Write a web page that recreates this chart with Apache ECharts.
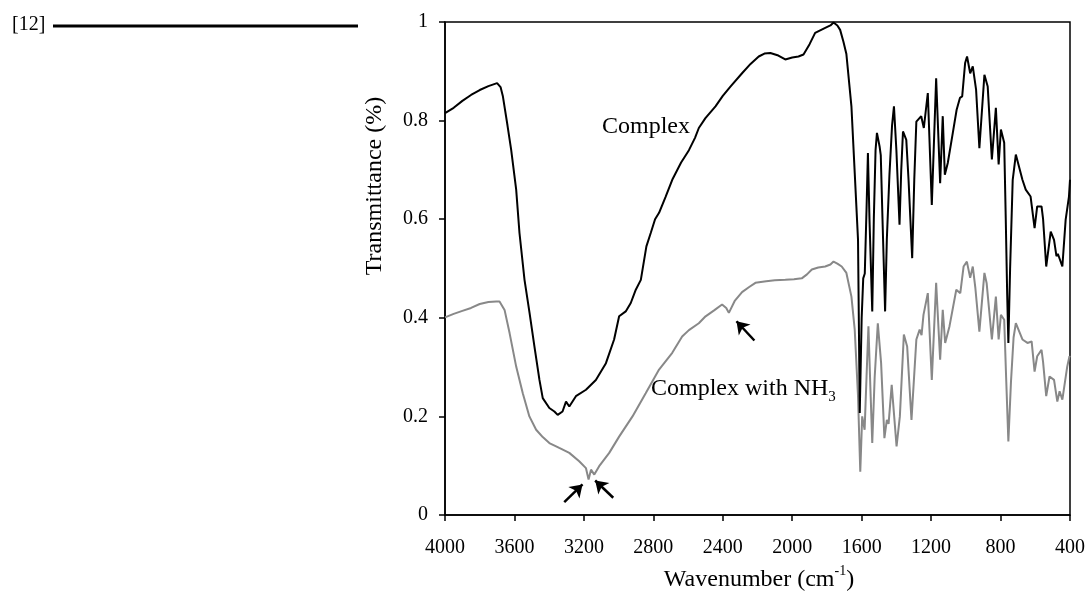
<!DOCTYPE html>
<html>
<head>
<meta charset="utf-8">
<title>IR spectra</title>
<script src="https://cdn.jsdelivr.net/npm/echarts@6/dist/echarts.min.js"></script>
<style>
  html, body { margin: 0; padding: 0; background: #fff; }
  #chart { width: 1088px; height: 594px; }
</style>
</head>
<body>
<div id="chart"></div>
<script>
// wavenumber (cm-1) and transmittance
var complexWn = [4000, 3950, 3900, 3850, 3800, 3750, 3700, 3680, 3667, 3640, 3619, 3590, 3571, 3542, 3513, 3485, 3456, 3437, 3399, 3370, 3351, 3323, 3303, 3284, 3246, 3188, 3131, 3073, 3026, 2997, 2959, 2930, 2901, 2872, 2840, 2815, 2790, 2767, 2730, 2691, 2640, 2595, 2560, 2538, 2500, 2442, 2400, 2356, 2289, 2240, 2193, 2160, 2126, 2080, 2040, 2000, 1964, 1935, 1900, 1868, 1810, 1780, 1762, 1740, 1724, 1705, 1688, 1659, 1640, 1621, 1611, 1600, 1591, 1582, 1572, 1564, 1555, 1539, 1530, 1520, 1512, 1497, 1490, 1480, 1465, 1455, 1440, 1425, 1414, 1400, 1382, 1372, 1362, 1343, 1330, 1309, 1297, 1285, 1257, 1242, 1219, 1196, 1171, 1148, 1133, 1121, 1104, 1075, 1053, 1034, 1021, 1004, 993, 975, 960, 941, 922, 893, 874, 850, 827, 811, 798, 779, 770, 762, 755, 745, 730, 712, 674, 655, 627, 604, 589, 564, 555, 537, 511, 492, 478, 470, 444, 425, 406, 400];
var complexT = [0.815, 0.826, 0.840, 0.852, 0.862, 0.870, 0.876, 0.868, 0.850, 0.790, 0.741, 0.660, 0.572, 0.477, 0.410, 0.342, 0.274, 0.237, 0.217, 0.210, 0.203, 0.210, 0.230, 0.220, 0.241, 0.254, 0.274, 0.308, 0.356, 0.403, 0.413, 0.430, 0.457, 0.477, 0.545, 0.572, 0.600, 0.613, 0.645, 0.680, 0.715, 0.740, 0.765, 0.785, 0.805, 0.829, 0.850, 0.869, 0.896, 0.915, 0.930, 0.936, 0.937, 0.932, 0.924, 0.928, 0.930, 0.934, 0.955, 0.978, 0.988, 0.993, 0.999, 0.993, 0.984, 0.960, 0.935, 0.829, 0.694, 0.558, 0.207, 0.400, 0.480, 0.490, 0.620, 0.734, 0.600, 0.413, 0.600, 0.740, 0.775, 0.748, 0.730, 0.600, 0.413, 0.560, 0.690, 0.790, 0.829, 0.740, 0.589, 0.700, 0.778, 0.761, 0.680, 0.521, 0.680, 0.798, 0.809, 0.785, 0.856, 0.629, 0.886, 0.673, 0.809, 0.690, 0.714, 0.775, 0.822, 0.846, 0.849, 0.917, 0.930, 0.896, 0.910, 0.863, 0.744, 0.893, 0.869, 0.721, 0.826, 0.711, 0.782, 0.755, 0.600, 0.450, 0.349, 0.500, 0.680, 0.731, 0.680, 0.660, 0.646, 0.582, 0.626, 0.626, 0.600, 0.504, 0.575, 0.558, 0.525, 0.530, 0.504, 0.599, 0.646, 0.680];

var nh3Wn = [4000, 3950, 3900, 3850, 3800, 3750, 3705, 3686, 3657, 3628, 3590, 3552, 3514, 3475, 3437, 3399, 3342, 3284, 3227, 3188, 3173, 3159, 3140, 3112, 3054, 2997, 2920, 2844, 2767, 2691, 2634, 2595, 2538, 2499, 2450, 2404, 2380, 2365, 2330, 2289, 2250, 2212, 2150, 2100, 2040, 1990, 1945, 1915, 1887, 1850, 1810, 1780, 1762, 1740, 1715, 1688, 1659, 1640, 1621, 1608, 1597, 1583, 1572, 1561, 1550, 1539, 1525, 1507, 1488, 1469, 1455, 1445, 1427, 1399, 1380, 1357, 1338, 1313, 1285, 1266, 1255, 1244, 1219, 1196, 1171, 1148, 1133, 1119, 1094, 1055, 1032, 1013, 994, 975, 960, 945, 922, 893, 880, 850, 827, 811, 798, 779, 768, 755, 740, 725, 712, 674, 645, 621, 604, 589, 564, 555, 537, 518, 492, 473, 460, 444, 416, 403, 400];
var nh3T = [0.401, 0.408, 0.414, 0.420, 0.428, 0.432, 0.433, 0.433, 0.416, 0.369, 0.301, 0.247, 0.200, 0.173, 0.158, 0.146, 0.136, 0.126, 0.109, 0.095, 0.072, 0.092, 0.082, 0.099, 0.126, 0.159, 0.200, 0.247, 0.295, 0.329, 0.362, 0.375, 0.389, 0.403, 0.415, 0.427, 0.420, 0.410, 0.435, 0.452, 0.462, 0.471, 0.474, 0.476, 0.477, 0.478, 0.480, 0.488, 0.498, 0.502, 0.504, 0.508, 0.514, 0.510, 0.504, 0.491, 0.443, 0.376, 0.241, 0.088, 0.200, 0.173, 0.280, 0.383, 0.260, 0.146, 0.280, 0.389, 0.308, 0.156, 0.193, 0.185, 0.264, 0.139, 0.200, 0.366, 0.342, 0.193, 0.356, 0.376, 0.365, 0.406, 0.450, 0.274, 0.471, 0.315, 0.416, 0.349, 0.383, 0.457, 0.450, 0.504, 0.514, 0.481, 0.504, 0.460, 0.372, 0.491, 0.470, 0.356, 0.443, 0.356, 0.406, 0.396, 0.280, 0.149, 0.270, 0.360, 0.389, 0.356, 0.349, 0.352, 0.291, 0.322, 0.335, 0.310, 0.241, 0.281, 0.274, 0.230, 0.251, 0.234, 0.301, 0.322, 0.320];

// arrows pointing at the NH3 features: [wavenumber, transmittance] tail -> head
var arrowTails = [[3313, 0.026], [3031, 0.035], [2218, 0.354]];
var arrowHeads = [[3208, 0.062], [3135, 0.070], [2321, 0.393]];

var xTicks = { min: 400, max: 4000, step: 400 };
var yTicks = { min: 0, max: 1, step: 0.2 };

function zip (xs, ys) {
  return xs.map(function (x, i) { return [x, ys[i]] })
}

var font = 'Liberation Serif, Times New Roman, serif'
var myChart = echarts.init(document.getElementById('chart'))

var option = {
  backgroundColor: '#fff',
  animation: false,
  grid: {
    left: 445,
    right: 16,
    top: 22,
    bottom: 79,
    show: true,
    borderColor: '#000',
    borderWidth: 1.5
  },
  xAxis: {
    type: 'value',
    inverse: true,
    min: xTicks.min,
    max: xTicks.max,
    interval: xTicks.step,
    axisLine: { lineStyle: { color: '#000', width: 1.5 } },
    axisTick: { show: true, inside: false, length: 6, lineStyle: { color: '#000', width: 1.5 } },
    axisLabel: {
      color: '#000',
      fontFamily: font,
      fontSize: 20,
      margin: 23,
      formatter: function (v) { return String(v) }
    },
    splitLine: { show: false }
  },
  yAxis: {
    type: 'value',
    min: yTicks.min,
    max: yTicks.max,
    interval: yTicks.step,
    axisLine: { show: true, lineStyle: { color: '#000', width: 1.5 } },
    axisTick: { show: true, inside: false, length: 6, lineStyle: { color: '#000', width: 1.5 } },
    axisLabel: { color: '#000', fontFamily: font, fontSize: 20, margin: 17 },
    splitLine: { show: false }
  },
  series: [{
    name: 'Complex',
    type: 'line',
    data: zip(complexWn, complexT),
    showSymbol: false,
    symbol: 'none',
    lineStyle: { color: '#000', width: 2 },
    z: 3
  }, {
    name: 'Complex with NH3',
    type: 'line',
    data: zip(nh3Wn, nh3T),
    showSymbol: false,
    symbol: 'none',
    lineStyle: { color: '#888', width: 2 },
    z: 2,
    markLine: {
      silent: true,
      symbol: ['none', 'arrow'],
      symbolSize: [12, 12],
      label: { show: false },
      lineStyle: { color: '#000', width: 2.5, type: 'solid' },
      data: arrowTails.map(function (t, i) {
        return [{ coord: t }, { coord: arrowHeads[i] }]
      })
    }
  }],
  graphic: [{
    type: 'text',
    left: 12,
    top: 15,
    style: { text: '[12]', font: '20px ' + font, fill: '#000' }
  }, {
    type: 'line',
    shape: { x1: 53, y1: 26, x2: 358, y2: 26 },
    style: { stroke: '#000', lineWidth: 3 }
  }, {
    type: 'text',
    x: 375,
    y: 186,
    rotation: Math.PI / 2,
    style: {
      text: 'Transmittance (%)',
      font: '24px ' + font,
      fill: '#000',
      align: 'center',
      verticalAlign: 'middle'
    }
  }, {
    type: 'text',
    x: 759,
    y: 578,
    style: {
      text: '{a|Wavenumber (cm}{s|-1}{a|)}',
      fill: '#000',
      align: 'center',
      verticalAlign: 'middle',
      rich: {
        a: { fontFamily: font, fontSize: 24, lineHeight: 28, verticalAlign: 'bottom' },
        s: { fontFamily: font, fontSize: 14, lineHeight: 28, verticalAlign: 'top' }
      }
    }
  }, {
    type: 'text',
    left: 602,
    top: 115,
    style: { text: 'Complex', font: '24px ' + font, fill: '#000' }
  }, {
    type: 'text',
    x: 651,
    y: 391,
    style: {
      text: '{a|Complex with NH}{s|3}',
      fill: '#000',
      verticalAlign: 'middle',
      rich: {
        a: { fontFamily: font, fontSize: 24, lineHeight: 28, verticalAlign: 'top' },
        s: { fontFamily: font, fontSize: 15, lineHeight: 28, verticalAlign: 'bottom' }
      }
    }
  }]
}

myChart.setOption(option)
</script>
</body>
</html>
